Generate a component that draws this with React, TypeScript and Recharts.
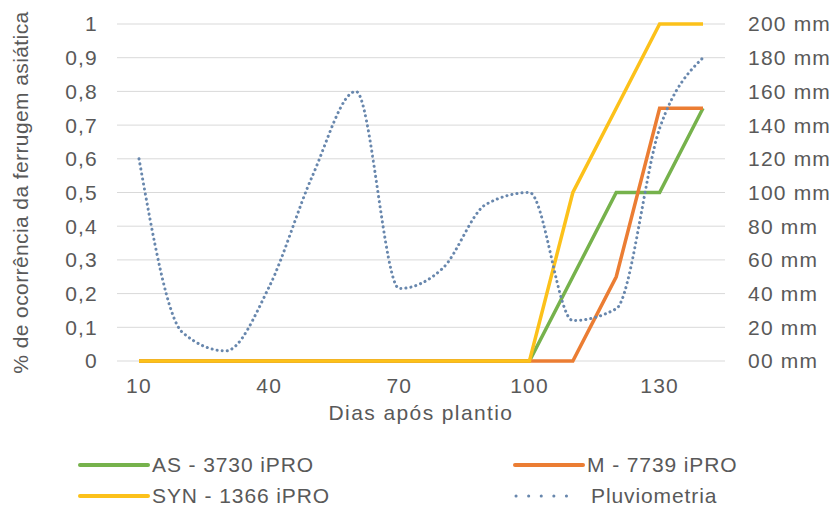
import React from 'react';
import { LineChart, Line, XAxis, YAxis, CartesianGrid, Legend, Label } from 'recharts';

const dias = [10, 20, 30, 40, 50, 60, 70, 80, 90, 100, 110, 120, 130, 140];
const as3730 = [0, 0, 0, 0, 0, 0, 0, 0, 0, 0, 0.25, 0.5, 0.5, 0.75];
const m7739 = [0, 0, 0, 0, 0, 0, 0, 0, 0, 0, 0, 0.25, 0.75, 0.75];
const syn1366 = [0, 0, 0, 0, 0, 0, 0, 0, 0, 0, 0.5, 0.75, 1, 1];
const pluviometria = [120, 17, 6, 44, 110, 160, 43, 55, 93, 100, 24, 31, 138, 180];

const leftTicks = [0, 0.1, 0.2, 0.3, 0.4, 0.5, 0.6, 0.7, 0.8, 0.9, 1];
const rightTicks = [0, 20, 40, 60, 80, 100, 120, 140, 160, 180, 200];

const seriesNames = ['AS - 3730 iPRO', 'M - 7739 iPRO', 'SYN - 1366 iPRO', 'Pluviometria'];
const seriesColors = ['#76B24C', '#EB7D33', '#FCC11A', '#6887AD'];

const data = dias.map((d, i) => ({
  dia: d,
  as: as3730[i],
  m: m7739[i],
  syn: syn1366[i],
  pluv: pluviometria[i],
}));

const FONT = '"Liberation Sans", Arial, sans-serif';
const TEXT = '#595959';

const renderLegend = () => {
  const order = [0, 1, 2, 3];
  return (
    <div style={{ position: 'relative', width: 837, height: 57, fontFamily: FONT, fontSize: 21, color: TEXT, letterSpacing: '0.9px' }}>
      {order.map((idx, k) => {
        const col = k % 2;
        const row = Math.floor(k / 2);
        const left = col === 0 ? 78 : 513;
        const top = row === 0 ? 3 : 34;
        const dotted = idx === 3;
        return (
          <div key={idx} style={{ position: 'absolute', left, top, height: 24, display: 'flex', alignItems: 'center', whiteSpace: 'nowrap' }}>
            <svg width={72} height={10} style={{ display: 'block' }}>
              {dotted ? (
                <line x1={3} y1={5} x2={66} y2={5} stroke={seriesColors[idx]} strokeWidth={3} strokeDasharray="0.1 12.5" strokeLinecap="round" />
              ) : (
                <line x1={2} y1={5} x2={70} y2={5} stroke={seriesColors[idx]} strokeWidth={4} strokeLinecap="round" />
              )}
            </svg>
            <span style={{ marginLeft: dotted ? 6 : 2 }}>{seriesNames[idx]}</span>
          </div>
        );
      })}
    </div>
  );
};

const fmtLeft = (v: number) => String(v).replace('.', ',');
const fmtRight = (v: number) => (v === 0 ? '00 mm' : `${v} mm`);

export default function App() {
  const tickStyle = { fill: TEXT, fontSize: 21, fontFamily: FONT, letterSpacing: '1.2px' };
  return (
    <div style={{ position: 'absolute', left: 0, top: 0, width: 837, height: 507, background: '#fff' }}>
      <LineChart width={837} height={507} data={data} margin={{ top: 24, right: 0, bottom: 0, left: 0 }}>
        <CartesianGrid vertical={false} stroke="#D9D9D9" strokeWidth={1} yAxisId="left" />
        <XAxis
          dataKey="dia"
          height={146}
          axisLine={false}
          tickLine={false}
          interval={2}
          padding={{ left: 22, right: 22 }}
          tick={tickStyle}
          tickMargin={11}
        >
          <Label
            content={(props: any) => {
              const vb = props.viewBox || {};
              return (
                <text x={vb.x + vb.width / 2} y={vb.y + 59} textAnchor="middle" fill={TEXT} fontSize={21} fontFamily={FONT} letterSpacing="1.4px">
                  Dias após plantio
                </text>
              );
            }}
          />
        </XAxis>
        <YAxis
          yAxisId="left"
          orientation="left"
          width={117}
          domain={[0, 1]}
          ticks={leftTicks}
          tickFormatter={fmtLeft}
          axisLine={false}
          tickLine={false}
          tick={tickStyle}
          tickMargin={13}
          interval={0}
        >
          <Label
            content={(props: any) => {
              const vb = props.viewBox || {};
              const cx = vb.x + 20;
              const cy = vb.y + vb.height / 2;
              return (
                <text x={cx} y={cy} transform={`rotate(-90, ${cx}, ${cy})`} textAnchor="middle" dominantBaseline="central" fill={TEXT} fontSize={21} fontFamily={FONT} letterSpacing="0.4px">
                  % de ocorrência da ferrugem asiática
                </text>
              );
            }}
          />
        </YAxis>
        <YAxis
          yAxisId="right"
          orientation="right"
          width={112}
          domain={[0, 200]}
          ticks={rightTicks}
          tickFormatter={fmtRight}
          axisLine={false}
          tickLine={false}
          tick={tickStyle}
          tickMargin={17}
          interval={0}
        />
        <Legend layout="horizontal" verticalAlign="middle" align="center" wrapperStyle={{ left: 0, top: 450, width: 837, height: 57 }} content={renderLegend} />
        <Line yAxisId="left" dataKey="as" name={seriesNames[0]} stroke={seriesColors[0]} strokeWidth={3.5} dot={false} type="linear" isAnimationActive={false} />
        <Line yAxisId="left" dataKey="m" name={seriesNames[1]} stroke={seriesColors[1]} strokeWidth={3.5} dot={false} type="linear" isAnimationActive={false} />
        <Line yAxisId="left" dataKey="syn" name={seriesNames[2]} stroke={seriesColors[2]} strokeWidth={3.5} dot={false} type="linear" isAnimationActive={false} />
        <Line yAxisId="right" dataKey="pluv" name={seriesNames[3]} stroke={seriesColors[3]} strokeWidth={3} strokeDasharray="0.1 5" strokeLinecap="round" dot={false} type="monotone" isAnimationActive={false} />
      </LineChart>
    </div>
  );
}
